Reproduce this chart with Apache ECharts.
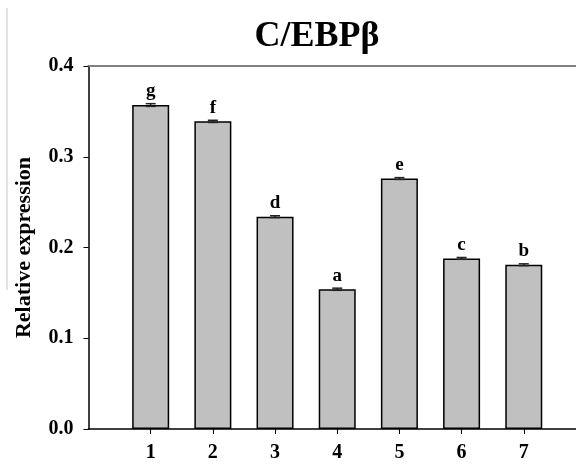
<!DOCTYPE html>
<html>
<head>
<meta charset="utf-8">
<script src="https://cdn.jsdelivr.net/npm/echarts@6/dist/echarts.min.js"></script>
<style>
  html, body { margin: 0; padding: 0; background: #fff; }
  #chart { width: 576px; height: 464px; }
</style>
</head>
<body>
<div id="chart"></div>
<script>
// 数据
const groups = [1, 2, 3, 4, 5, 6, 7];
const expression = [0.357, 0.339, 0.234, 0.154, 0.276, 0.188, 0.181];
const errors = [0.0015, 0.0012, 0.001, 0.0012, 0.001, 0.001, 0.001];
const letters = ['g', 'f', 'd', 'a', 'e', 'c', 'b'];

const serif = '"Liberation Serif", "Times New Roman", serif';
const xMax = 7.84; // 右侧被裁掉的坐标范围

const chart = echarts.init(document.getElementById('chart'));

const option = {
    animation: false,
    title: {
        text: 'C/EBPβ',
        left: 312,
        textAlign: 'center',
        top: 14,
        textStyle: { fontFamily: serif, fontWeight: 'bold', fontSize: 36, color: '#000' }
    },
    grid: { left: 88.5, right: 0, top: 66, bottom: 35 },
    xAxis: [{
        type: 'value',
        min: 0,
        max: xMax,
        interval: 1,
        splitLine: { show: false },
        axisLine: { lineStyle: { color: '#000', width: 1.5 } },
        axisTick: { show: true, length: 5, lineStyle: { color: '#000' }, customValues: groups },
        axisLabel: {
            customValues: groups,
            margin: 14,
            fontFamily: serif, fontWeight: 'bold', fontSize: 20, color: '#000'
        }
    }, {
        type: 'value',
        position: 'top',
        min: 0,
        max: xMax,
        splitLine: { show: false },
        axisLine: { show: true, lineStyle: { color: '#808080', width: 2 } },
        axisTick: { show: false },
        axisLabel: { show: false }
    }],
    yAxis: {
        type: 'value',
        min: 0,
        max: 0.4,
        interval: 0.1,
        name: 'Relative expression',
        nameLocation: 'middle',
        nameGap: 53,
        nameTextStyle: { fontFamily: serif, fontWeight: 'bold', fontSize: 22, color: '#000' },
        splitLine: { show: false },
        axisLine: { show: true, lineStyle: { color: '#000', width: 1.5 } },
        axisTick: { show: true, length: 5, lineStyle: { color: '#000' } },
        axisLabel: {
            margin: 15,
            formatter: v => v.toFixed(1),
            fontFamily: serif, fontWeight: 'bold', fontSize: 20, color: '#000'
        }
    },
    graphic: [{
        // 左侧浅灰色竖线
        type: 'line',
        shape: { x1: 7, y1: 8, x2: 7, y2: 290 },
        style: { stroke: '#e2e2e2', lineWidth: 2 },
        silent: true
    }],
    series: [{
        type: 'bar',
        barWidth: 37,
        data: groups.map((g, i) => [g, expression[i]]),
        itemStyle: { color: '#c0c0c0', borderColor: '#000', borderWidth: 1.5 },
        label: {
            show: true,
            position: 'top',
            distance: 4,
            formatter: p => letters[p.dataIndex],
            fontFamily: serif, fontWeight: 'bold', fontSize: 19, color: '#000'
        }
    }, {
        // 误差线
        type: 'custom',
        data: groups.map((g, i) => [g, expression[i] - errors[i], expression[i] + errors[i]]),
        renderItem: (params, api) => {
            const lo = api.coord([api.value(0), api.value(1)]);
            const hi = api.coord([api.value(0), api.value(2)]);
            const w = 5;
            const style = { stroke: '#222', lineWidth: 1.5 };
            return {
                type: 'group',
                children: [
                    { type: 'line', shape: { x1: lo[0], y1: lo[1], x2: hi[0], y2: hi[1] }, style },
                    { type: 'line', shape: { x1: lo[0] - w, y1: lo[1], x2: lo[0] + w, y2: lo[1] }, style },
                    { type: 'line', shape: { x1: hi[0] - w, y1: hi[1], x2: hi[0] + w, y2: hi[1] }, style }
                ]
            };
        },
        z: 5
    }]
};

chart.setOption(option);
</script>
</body>
</html>
